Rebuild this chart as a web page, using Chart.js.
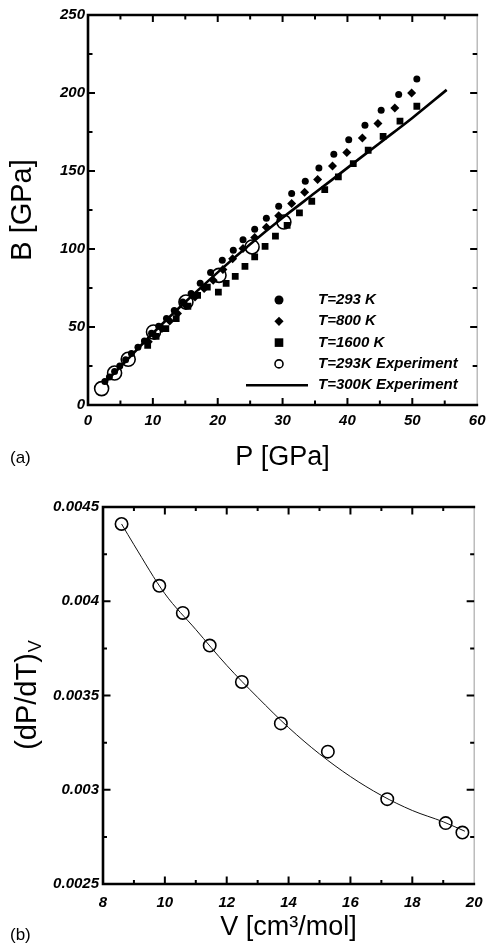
<!DOCTYPE html>
<html>
<head>
<meta charset="utf-8">
<script src="https://cdn.jsdelivr.net/npm/chart.js@4.4.1/dist/chart.umd.min.js"></script>
<style>
  html, body { margin: 0; padding: 0; background: #fff; }
  #wrap { position: relative; width: 492px; height: 948px; }
  canvas { position: absolute; left: 0; }
  #chartA { top: 0; }
  #chartB { top: 478px; }
</style>
</head>
<body>
<div id="wrap">
  <canvas id="chartA" width="492" height="478"></canvas>
  <canvas id="chartB" width="492" height="470"></canvas>
</div>
<script>
// --- panel (a): bulk modulus B vs pressure P ---
const p293 = [2.6, 3.3, 4.1, 4.9, 5.8, 6.7, 7.7, 8.7, 9.8, 10.9, 12.1, 13.3, 14.6, 15.9, 17.3, 18.9, 20.7, 22.4, 23.9, 25.7, 27.5, 29.4, 31.4, 33.5, 35.6, 37.9, 40.2, 42.7, 45.2, 47.9, 50.7];
const b293 = [15, 18, 21.5, 25, 29, 33, 37, 41, 46, 50.5, 55.5, 60.5, 66, 71.5, 78, 85, 92.8, 99.2, 106, 112.6, 119.7, 127.4, 135.5, 143.4, 152, 160.7, 170.1, 179.3, 188.9, 199, 209];

const p800 = [9.3, 10.3, 11.4, 12.6, 13.8, 15.1, 16.5, 17.9, 19.3, 20.8, 22.3, 23.9, 25.7, 27.5, 29.4, 31.4, 33.4, 35.4, 37.7, 39.9, 42.3, 44.7, 47.3, 49.9];
const b800 = [40.5, 44.5, 49, 53.8, 58.6, 63.8, 69.2, 74.6, 80, 86.8, 93.8, 100.3, 107.3, 114, 121.3, 129.1, 136.3, 144.5, 153.2, 161.8, 171.2, 180.4, 190.4, 200];

const p1600 = [9.2, 10.5, 12.0, 13.6, 15.4, 16.9, 18.4, 20.1, 21.3, 22.7, 24.2, 25.7, 27.3, 28.9, 30.7, 32.6, 34.5, 36.5, 38.6, 40.9, 43.2, 45.5, 48.1, 50.7];
const b1600 = [38.3, 44, 49, 55.4, 63.3, 70.3, 75.6, 72.4, 78, 82.5, 88.9, 94.9, 101.7, 108.3, 115.2, 123.1, 130.6, 138, 146.2, 154.7, 163.3, 172.2, 182, 191.5];

const pExp = [2.1, 4.1, 6.2, 10.1, 15.1, 20.2, 25.3, 30.2];
const bExp = [10.5, 20.5, 29.3, 46.8, 66, 83.1, 101.3, 117.3];

const pFit300 = [2.4, 5, 10, 15, 20, 25, 30, 35, 40, 45, 50, 55.3];
const bFit300 = [13.7, 24.5, 46, 66, 85, 103, 120, 136, 152, 168, 184, 202];

const seriesNames = ['T=293 K', 'T=800 K', 'T=1600 K', 'T=293K Experiment', 'T=300K Experiment'];

// --- panel (b): (dP/dT)_V vs molar volume ---
const vol = [8.6, 9.82, 10.58, 11.45, 12.49, 13.75, 15.27, 17.19, 19.08, 19.62];
const dpdt = [0.00441, 0.004082, 0.003938, 0.003765, 0.003572, 0.003352, 0.003202, 0.00295, 0.002823, 0.002773];
const volFit = [8.6, 9, 10, 11, 12, 13, 14, 15, 16, 17, 18, 19, 19.7];
const dpdtFit = [0.00441, 0.0043, 0.00404, 0.00385, 0.00366, 0.00349, 0.00333, 0.00319, 0.00307, 0.00297, 0.00289, 0.00283, 0.00278];

const pts = (xs, ys) => xs.map((v, i) => ({ x: v, y: ys[i] }));

Chart.defaults.font.family = '"Liberation Sans", Arial, sans-serif';
Chart.defaults.color = '#000';

const tickFont = { size: 15, style: 'italic', weight: 'bold' };
const titleFont = { size: 27, weight: 'normal', lineHeight: 1 };
const yTitleFont = { size: 29, weight: 'normal', lineHeight: 1 };

// boxed frame with inward major/minor ticks on all four sides
const frameTicks = {
  id: 'frameTicks',
  afterDraw(chart, args, opts) {
    const { ctx, chartArea: a, scales: { x, y } } = chart;
    ctx.save();
    ctx.strokeStyle = '#9a9a9a';
    ctx.lineWidth = 1;
    ctx.beginPath();
    ctx.moveTo(a.right, a.top);
    ctx.lineTo(a.right, a.bottom);
    ctx.stroke();

    ctx.strokeStyle = '#000';
    ctx.lineWidth = 2.6;
    ctx.beginPath();
    ctx.moveTo(a.right + 1, a.top);
    ctx.lineTo(a.left, a.top);
    ctx.lineTo(a.left, a.bottom);
    ctx.lineTo(a.right + 1, a.bottom);
    ctx.stroke();

    ctx.lineWidth = 2;
    ctx.beginPath();
    const nx = Math.round((x.max - x.min) / opts.xMinor);
    for (let i = 1; i < nx; i++) {
      const px = x.getPixelForValue(x.min + i * opts.xMinor);
      const len = i % 2 === 0 ? opts.major : opts.minor;
      ctx.moveTo(px, a.bottom); ctx.lineTo(px, a.bottom - len);
      ctx.moveTo(px, a.top); ctx.lineTo(px, a.top + len);
    }
    const ny = Math.round((y.max - y.min) / opts.yMinor);
    for (let i = 1; i < ny; i++) {
      const py = y.getPixelForValue(y.min + i * opts.yMinor);
      const len = i % 2 === 0 ? opts.major : opts.minor;
      ctx.moveTo(a.left, py); ctx.lineTo(a.left + len, py);
      ctx.moveTo(a.right, py); ctx.lineTo(a.right - len, py);
    }
    ctx.stroke();
    ctx.restore();
  }
};

// panel letter under the x axis
const panelTag = {
  id: 'panelTag',
  afterDraw(chart, args, opts) {
    const ctx = chart.ctx;
    ctx.save();
    ctx.font = '17px "Liberation Sans", Arial, sans-serif';
    ctx.fillStyle = '#000';
    ctx.textBaseline = 'middle';
    ctx.fillText(opts.text, 10, chart.height - opts.fromBottom);
    ctx.restore();
  }
};

// legend in the lower right of panel (a)
const keyBox = {
  id: 'keyBox',
  afterDraw(chart, args, opts) {
    if (!opts.items) return;
    const { ctx, chartArea: a } = chart;
    ctx.save();
    ctx.font = 'italic bold 15px "Liberation Sans", Arial, sans-serif';
    ctx.textBaseline = 'middle';
    ctx.fillStyle = '#000';
    ctx.strokeStyle = '#000';
    const sx = a.left + 191, tx = a.left + 230;
    opts.items.forEach((it, i) => {
      const cy = a.top + 285 + i * 21.3;
      ctx.beginPath();
      if (it.kind === 'dot') {
        ctx.arc(sx, cy, 4.5, 0, Math.PI * 2);
        ctx.fill();
      } else if (it.kind === 'diamond') {
        ctx.moveTo(sx, cy - 4.6); ctx.lineTo(sx + 4.6, cy); ctx.lineTo(sx, cy + 4.6); ctx.lineTo(sx - 4.6, cy);
        ctx.closePath();
        ctx.fill();
      } else if (it.kind === 'square') {
        ctx.rect(sx - 4.3, cy - 4.3, 8.6, 8.6);
        ctx.fill();
      } else if (it.kind === 'ring') {
        ctx.lineWidth = 1.6;
        ctx.arc(sx, cy, 4, 0, Math.PI * 2);
        ctx.stroke();
      } else {
        ctx.lineWidth = 2.6;
        ctx.moveTo(sx - 33, cy); ctx.lineTo(sx + 29, cy);
        ctx.stroke();
      }
      ctx.fillText(it.label, tx, cy);
    });
    ctx.restore();
  }
};

// rotated y title with subscript for panel (b)
const subTitleY = {
  id: 'subTitleY',
  afterDraw(chart, args, opts) {
    if (!opts.text) return;
    const { ctx, chartArea: a } = chart;
    ctx.save();
    ctx.translate(opts.x, (a.top + a.bottom) / 2);
    ctx.rotate(-Math.PI / 2);
    ctx.fillStyle = '#000';
    ctx.textBaseline = 'middle';
    ctx.font = '29px "Liberation Sans", Arial, sans-serif';
    const w1 = ctx.measureText(opts.text).width;
    ctx.font = '18px "Liberation Sans", Arial, sans-serif';
    const w2 = ctx.measureText(opts.sub).width;
    const x0 = -(w1 + w2) / 2;
    ctx.font = '29px "Liberation Sans", Arial, sans-serif';
    ctx.fillText(opts.text, x0, 0);
    ctx.font = '18px "Liberation Sans", Arial, sans-serif';
    ctx.fillText(opts.sub, x0 + w1 + 1, 8);
    ctx.restore();
  }
};

new Chart(document.getElementById('chartA'), {
  type: 'scatter',
  data: {
    datasets: [
      {
        type: 'line', label: seriesNames[4], data: pts(pFit300, bFit300),
        borderColor: '#000', borderWidth: 2.6, pointRadius: 0,
        cubicInterpolationMode: 'monotone', fill: false
      },
      {
        label: seriesNames[3], data: pts(pExp, bExp),
        pointStyle: 'circle', pointRadius: 7, borderWidth: 1.6,
        borderColor: '#000', backgroundColor: 'rgba(0,0,0,0)'
      },
      {
        label: seriesNames[0], data: pts(p293, b293),
        pointStyle: 'circle', pointRadius: 3.5, borderWidth: 0, backgroundColor: '#000'
      },
      {
        label: seriesNames[1], data: pts(p800, b800),
        pointStyle: 'rectRot', pointRadius: 4.5, borderWidth: 0, backgroundColor: '#000'
      },
      {
        label: seriesNames[2], data: pts(p1600, b1600),
        pointStyle: 'rect', pointRadius: 4.8, borderWidth: 0, backgroundColor: '#000'
      }
    ]
  },
  options: {
    responsive: false,
    animation: false,
    layout: { padding: { top: 15, right: 12, left: 0, bottom: 0 } },
    scales: {
      x: {
        min: 0, max: 60,
        grid: { display: false, drawTicks: false },
        border: { display: false },
        ticks: { stepSize: 10, autoSkip: false, maxRotation: 0, padding: 6.5, font: tickFont, color: '#000' },
        title: { display: true, text: 'P [GPa]', font: titleFont, color: '#000', padding: { top: 0, bottom: 6.5 } },
        afterFit(scale) { scale.height = 73; }
      },
      y: {
        min: 0, max: 250,
        grid: { display: false, drawTicks: false },
        border: { display: false },
        ticks: { stepSize: 50, padding: 3, font: tickFont, color: '#000' },
        title: { display: true, text: 'B [GPa]', font: yTitleFont, color: '#000', padding: { top: 8, bottom: 0 } },
        afterFit(scale) { scale.width = 88; }
      }
    },
    plugins: {
      legend: { display: false },
      tooltip: { enabled: false },
      frameTicks: { xMinor: 5, yMinor: 25, major: 7, minor: 4.5 },
      panelTag: { text: '(a)', fromBottom: 20 },
      keyBox: {
        items: [
          { kind: 'dot', label: seriesNames[0] },
          { kind: 'diamond', label: seriesNames[1] },
          { kind: 'square', label: seriesNames[2] },
          { kind: 'ring', label: seriesNames[3] },
          { kind: 'line', label: seriesNames[4] }
        ]
      }
    }
  },
  plugins: [frameTicks, panelTag, keyBox]
});

new Chart(document.getElementById('chartB'), {
  type: 'scatter',
  data: {
    datasets: [
      {
        type: 'line', label: 'fit', data: pts(volFit, dpdtFit),
        borderColor: '#111', borderWidth: 1, pointRadius: 0,
        cubicInterpolationMode: 'monotone', fill: false
      },
      {
        label: 'dP/dT', data: pts(vol, dpdt),
        pointStyle: 'circle', pointRadius: 6.2, borderWidth: 1.6,
        borderColor: '#000', backgroundColor: 'rgba(0,0,0,0)'
      }
    ]
  },
  options: {
    responsive: false,
    animation: false,
    layout: { padding: { top: 29, right: 12.5, left: 0, bottom: 0 } },
    scales: {
      x: {
        min: 8, max: 20,
        grid: { display: false, drawTicks: false },
        border: { display: false },
        ticks: { stepSize: 2, autoSkip: false, maxRotation: 0, padding: 9.5, font: tickFont, color: '#000' },
        title: { display: true, text: 'V [cm³/mol]', font: titleFont, color: '#000', padding: { top: 0, bottom: 6.5 } },
        afterFit(scale) { scale.height = 64; }
      },
      y: {
        min: 0.0025, max: 0.0045,
        grid: { display: false, drawTicks: false },
        border: { display: false },
        ticks: {
          stepSize: 0.0005, padding: 4, font: tickFont, color: '#000',
          callback: v => String(+v.toFixed(5))
        },
        afterFit(scale) { scale.width = 103; }
      }
    },
    plugins: {
      legend: { display: false },
      tooltip: { enabled: false },
      frameTicks: { xMinor: 1, yMinor: 0.00025, major: 7.5, minor: 4 },
      panelTag: { text: '(b)', fromBottom: 13 },
      subTitleY: { text: '(dP/dT)', sub: 'V', x: 28 }
    }
  },
  plugins: [frameTicks, panelTag, subTitleY]
});
</script>
</body>
</html>
